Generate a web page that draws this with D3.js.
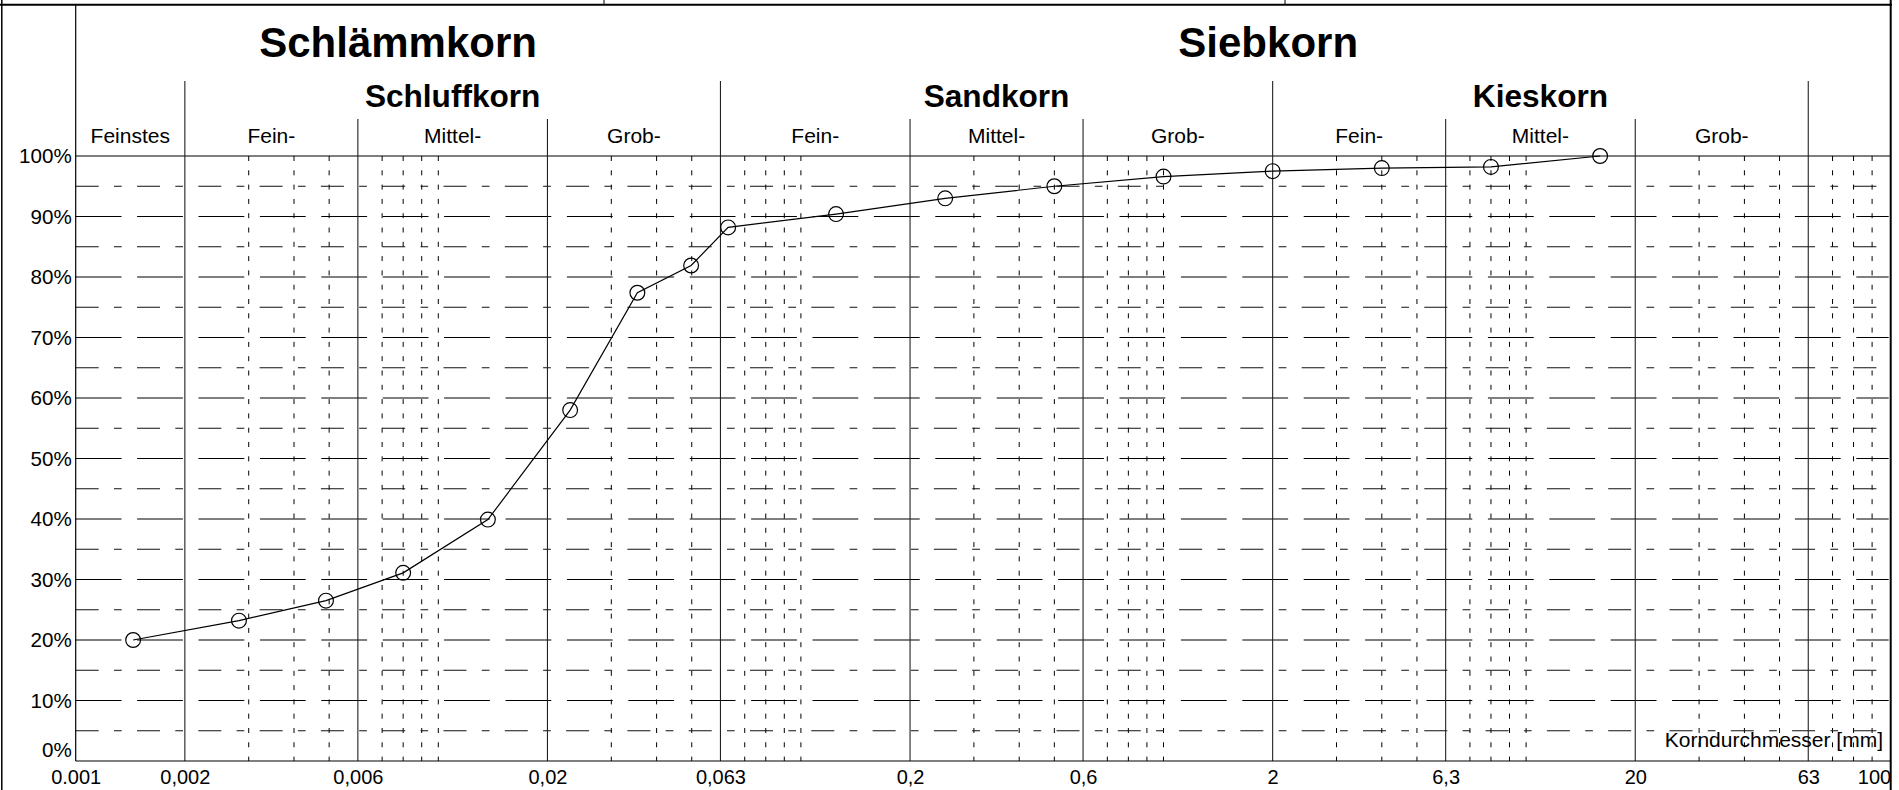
<!DOCTYPE html>
<html><head><meta charset="utf-8">
<script src="https://cdn.jsdelivr.net/npm/d3@7"></script>
<style>
html,body{margin:0;padding:0;background:#fff;}
svg{display:block;font-family:"Liberation Sans",Arial,Helvetica,sans-serif;}
</style></head><body>
<svg id="chart" width="1899" height="790"></svg>
<script>
// ---- data ----
const grainSizes = [0.00144, 0.00282, 0.0049, 0.0080, 0.0137, 0.0231, 0.0354, 0.0498, 0.063, 0.125, 0.25, 0.5, 1, 2, 4, 8, 16];
const percentPassing = [20.0, 23.2, 26.5, 31.1, 39.9, 58.0, 77.4, 81.9, 88.2, 90.4, 93.0, 95.0, 96.6, 97.5, 98.0, 98.2, 100];

const xTickValues = [0.001, 0.002, 0.006, 0.02, 0.06, 0.2, 0.6, 2, 6, 20, 60, 100];
const xTickLabels = ["0.001", "0,002", "0,006", "0,02", "0,063", "0,2", "0,6", "2", "6,3", "20", "63", "100"];
const yTickValues = [0, 10, 20, 30, 40, 50, 60, 70, 80, 90, 100];
const yTickLabels = ["0%", "10%", "20%", "30%", "40%", "50%", "60%", "70%", "80%", "90%", "100%"];

const mainLabels = ["Schlämmkorn", "Siebkorn"];
const mainBounds = [[0.001, 0.06], [0.06, 63]];
const groupLabels = ["Schluffkorn", "Sandkorn", "Kieskorn"];
const groupBounds = [[0.002, 0.06], [0.06, 2], [2, 60]];
const fractionLabels = ["Feinstes", "Fein-", "Mittel-", "Grob-", "Fein-", "Mittel-", "Grob-", "Fein-", "Mittel-", "Grob-"];
const fractionBounds = [0.001, 0.002, 0.006, 0.02, 0.06, 0.2, 0.6, 2, 6, 20, 60];
const majorBounds = [0.002, 0.06, 2, 60];
const minorBounds = [0.006, 0.02, 0.2, 0.6, 6, 20];
const axisTitle = "Korndurchmesser [mm]";

// ---- layout ----
const X0 = 75.7, X1 = 1888.7, YTOP = 156, YBOT = 761;
const svg = d3.select("#chart");
const x = d3.scaleLog().domain([0.001, 100]).range([X0, X1]);
const y = d3.scaleLinear().domain([0, 100]).range([YBOT, YTOP]);

// frame
const frame = svg.append("g").attr("stroke", "#000").attr("fill", "none");
frame.append("line").attr("x1", 0).attr("x2", 1892).attr("y1", 4.8).attr("y2", 4.8).attr("stroke-width", 2);
frame.append("line").attr("x1", 1.8).attr("x2", 1.8).attr("y1", 0).attr("y2", 790).attr("stroke-width", 1.5);
frame.append("line").attr("x1", 1890.7).attr("x2", 1890.7).attr("y1", 0).attr("y2", 790).attr("stroke-width", 2);
frame.append("line").attr("x1", 604).attr("x2", 604).attr("y1", 0).attr("y2", 4).attr("stroke-width", 1);
frame.append("line").attr("x1", 1285).attr("x2", 1285).attr("y1", 0).attr("y2", 4).attr("stroke-width", 1);
frame.append("line").attr("x1", X0).attr("x2", X0).attr("y1", 4.8).attr("y2", YBOT).attr("stroke-width", 1.2);

// minor vertical dashed grid (1..9 x 10^k, excluding boundaries)
const solidSet = new Set(fractionBounds.concat([100]).map(v => +v.toPrecision(6)));
const minorV = [];
for (let k = -3; k <= 1; k++) {
  for (let m = 1; m <= 9; m++) {
    const v = +(m * Math.pow(10, k)).toPrecision(6);
    if (!solidSet.has(v)) minorV.push(v);
  }
}
const grid = svg.append("g").attr("fill", "none");
grid.selectAll("line.vminor").data(minorV).join("line")
  .attr("class", "vminor")
  .attr("x1", d => x(d)).attr("x2", d => x(d))
  .attr("y1", YTOP).attr("y2", YBOT)
  .attr("stroke", "#000").attr("stroke-width", 1)
  .attr("stroke-dasharray", "5,9.3");

// horizontal grid
const h10 = d3.range(10, 100, 10);
const h5 = d3.range(5, 100, 10);
grid.selectAll("line.h10").data(h10).join("line")
  .attr("class", "h10")
  .attr("x1", X0).attr("x2", X1)
  .attr("y1", d => y(d)).attr("y2", d => y(d))
  .attr("stroke", "#000").attr("stroke-width", 1.1)
  .attr("stroke-dasharray", "45.8,15.6");
grid.selectAll("line.h5").data(h5).join("line")
  .attr("class", "h5")
  .attr("x1", X0).attr("x2", X1)
  .attr("y1", d => y(d)).attr("y2", d => y(d))
  .attr("stroke", "#111").attr("stroke-width", 1)
  .attr("stroke-dasharray", "23,15.3,7.7,15.3");

// top solid line
grid.append("line").attr("x1", X0).attr("x2", 1891).attr("y1", y(100)).attr("y2", y(100)).attr("stroke", "#000").attr("stroke-width", 1.2);

// boundary verticals (extend into header)
grid.selectAll("line.vmajor").data(majorBounds).join("line")
  .attr("class", "vmajor")
  .attr("x1", d => x(d)).attr("x2", d => x(d))
  .attr("y1", 81).attr("y2", YBOT)
  .attr("stroke", "#222").attr("stroke-width", 1.1);
grid.selectAll("line.vmin").data(minorBounds).join("line")
  .attr("class", "vmin")
  .attr("x1", d => x(d)).attr("x2", d => x(d))
  .attr("y1", 119).attr("y2", YBOT)
  .attr("stroke", "#222").attr("stroke-width", 1.1);

// header labels
const lmid = (a, b) => x(Math.sqrt(a * b));
const head = svg.append("g").attr("fill", "#000").attr("text-anchor", "middle");
head.selectAll("text.main").data(mainLabels).join("text")
  .attr("class", "main")
  .attr("x", (d, i) => lmid(mainBounds[i][0], mainBounds[i][1]))
  .attr("y", 56.5)
  .attr("font-size", 42).attr("font-weight", "bold")
  .text(d => d);
head.selectAll("text.group").data(groupLabels).join("text")
  .attr("class", "group")
  .attr("x", (d, i) => lmid(groupBounds[i][0], groupBounds[i][1]))
  .attr("y", 107.3)
  .attr("font-size", 31.6).attr("font-weight", "bold")
  .text(d => d);
head.selectAll("text.frac").data(fractionLabels).join("text")
  .attr("class", "frac")
  .attr("x", (d, i) => lmid(fractionBounds[i], fractionBounds[i + 1]))
  .attr("y", 142.7)
  .attr("font-size", 21)
  .text(d => d);

// axes
const xAxis = d3.axisBottom(x)
  .tickValues(xTickValues)
  .tickSize(0).tickPadding(9)
  .tickFormat((d, i) => xTickLabels[i]);
const gx = svg.append("g").attr("transform", `translate(0,${YBOT})`).call(xAxis);
gx.select(".domain").attr("stroke", "#000").attr("stroke-width", 1.2).attr("d", `M${X0},0H1891`);
gx.selectAll("text").attr("font-size", 20).attr("fill", "#000").attr("font-family", "Liberation Sans, Arial, sans-serif");
gx.selectAll(".tick").filter(d => d === 100).select("text").attr("text-anchor", "end").attr("dx", 2);

const yAxis = d3.axisLeft(y)
  .tickValues(yTickValues)
  .tickSize(0).tickPadding(4)
  .tickFormat((d, i) => yTickLabels[i]);
const gy = svg.append("g").attr("transform", `translate(${X0},0)`).call(yAxis);
gy.select(".domain").remove();
gy.selectAll("text").attr("font-size", 20.6).attr("fill", "#000").attr("font-family", "Liberation Sans, Arial, sans-serif");
gy.selectAll(".tick").filter(d => d === 0).select("text").attr("dy", "-0.21em");

// axis title inside plot
svg.append("text")
  .attr("x", 1883).attr("y", 746.7)
  .attr("text-anchor", "end").attr("font-size", 21).attr("fill", "#000")
  .text(axisTitle);

// curve and points
const pts = grainSizes.map((g, i) => [g, percentPassing[i]]);
const line = d3.line().x(d => x(d[0])).y(d => y(d[1])).curve(d3.curveLinear);
svg.append("path").datum(pts)
  .attr("d", line).attr("fill", "none").attr("stroke", "#000").attr("stroke-width", 1.2);
svg.append("g").selectAll("circle").data(pts).join("circle")
  .attr("cx", d => x(d[0])).attr("cy", d => y(d[1])).attr("r", 7.4)
  .attr("fill", "none").attr("stroke", "#000").attr("stroke-width", 1.2);
</script>
</body></html>
